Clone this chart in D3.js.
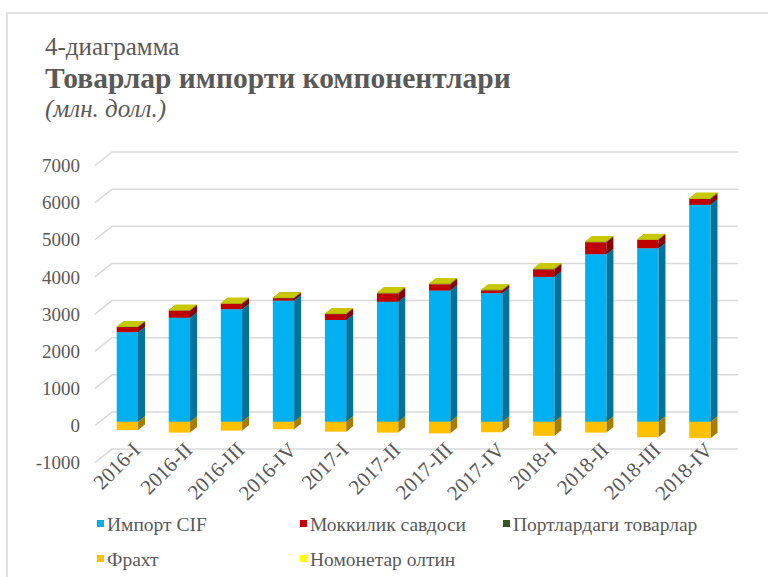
<!DOCTYPE html>
<html>
<head>
<meta charset="utf-8">
<script src="https://cdn.jsdelivr.net/npm/d3@7.9.0/dist/d3.min.js"></script>
<style>
  body { margin: 0; background: #fff; }
  svg { display: block; font-family: "Liberation Serif", "Times New Roman", serif; }
</style>
</head>
<body>
<div id="chart"></div>
<script>
const categories = ['2016-I', '2016-II', '2016-III', '2016-IV', '2017-I', '2017-II',
  '2017-III', '2017-IV', '2018-I', '2018-II', '2018-III', '2018-IV'];
const importCIF = [2410, 2800, 3030, 3260, 2740, 3230, 3530, 3460, 3900, 4510, 4670, 5840];
const mokkilik = [135, 190, 145, 65, 155, 225, 170, 75, 200, 320, 225, 155];
const portlar = [6, 4, 5, 3, 4, 6, 5, 4, 7, 6, 5, 8];
const oltin = [12, 10, 14, 9, 11, 15, 13, 10, 16, 12, 14, 18];
const frakht = [-225, -295, -240, -205, -270, -295, -315, -285, -380, -295, -420, -445];
const yTicks = [-1000, 0, 1000, 2000, 3000, 4000, 5000, 6000, 7000];

const series = [
  { key: 'import', name: 'Импорт CIF', values: importCIF, front: '#00B0F0', side: '#00729c', top: '#0090c4' },
  { key: 'mokkilik', name: 'Моккилик савдоси', values: mokkilik, front: '#C00000', side: '#860000', top: '#a00000' },
  { key: 'port', name: 'Портлардаги товарлар', values: portlar, front: '#375623', side: '#263c18', top: '#2e481d' },
  { key: 'oltin', name: 'Номонетар олтин', values: oltin, front: '#FFFF00', side: '#b3b300', top: '#c8c800' },
  { key: 'frakht', name: 'Фрахт', values: frakht, front: '#FFC000', side: '#a67d00', top: '#d9a300' },
];
const legendOrder = ['import', 'mokkilik', 'port', 'frakht', 'oltin'];

const width = 768, height = 577;
const svg = d3.select('#chart').append('svg')
  .attr('width', width).attr('height', height);

// chart frame (runs off the right/bottom of the picture)
svg.append('rect')
  .attr('x', 7).attr('y', 13).attr('width', 820).attr('height', 620)
  .attr('fill', '#fff').attr('stroke', '#d9d9d9').attr('stroke-width', 1.5);

// titles
const textColor = '#595959';
svg.append('text').attr('x', 45).attr('y', 55)
  .attr('font-size', 25).attr('fill', textColor).text('4-диаграмма');
svg.append('text').attr('x', 45).attr('y', 88)
  .attr('font-size', 29.5).attr('font-weight', 'bold').attr('fill', textColor)
  .text('Товарлар  импорти компонентлари');
svg.append('text').attr('x', 45).attr('y', 117)
  .attr('font-size', 25).attr('font-style', 'italic').attr('fill', textColor)
  .text('(млн. долл.)');

// back wall scale
const y = d3.scaleLinear().domain([-1000, 7000]).range([449.1, 152]);
const wall = { left: 112, right: 738, dx: 17, dy: 13.5 };   // side wall depth
const bar = { dx: 7, dy: -5.5, drop: 9.7 };                  // bar depth / front-face offset

const x = d3.scaleBand().domain(categories)
  .range([101, 726.2]).paddingInner(0.591).paddingOuter(0.3017);

// gridlines
const grid = svg.append('g').attr('class', 'grid');
grid.selectAll('polyline').data(yTicks).join('polyline')
  .attr('points', d => `${wall.left - wall.dx},${y(d) + wall.dy} ${wall.left},${y(d)} ${wall.right},${y(d)}`)
  .attr('fill', 'none').attr('stroke', '#d9d9d9').attr('stroke-width', 1.5);

// y labels
svg.append('g').selectAll('text').data(yTicks).join('text')
  .attr('x', 80).attr('y', d => y(d) + wall.dy)
  .attr('dy', '0.35em').attr('text-anchor', 'end')
  .attr('font-size', 19).attr('fill', textColor)
  .text(d => d);

// stack
const rows = categories.map((c, i) => {
  const r = { cat: c };
  series.forEach(s => { r[s.key] = s.values[i]; });
  return r;
});
const stacked = d3.stack().keys(series.map(s => s.key)).offset(d3.stackOffsetDiverging)(rows);
const byKey = new Map(stacked.map(s => [s.key, s]));
const drawOrder = ['frakht', 'import', 'mokkilik', 'port', 'oltin'];
const yf = v => y(v) + bar.drop;

const bars = svg.append('g').attr('class', 'bars');
categories.forEach((c, i) => {
  const g = bars.append('g');
  const x0 = x(c), x1 = x0 + x.bandwidth();
  drawOrder.forEach(k => {
    const s = series.find(d => d.key === k);
    const seg = byKey.get(k)[i];
    const yt = yf(Math.max(seg[0], seg[1])), yb = yf(Math.min(seg[0], seg[1]));
    g.append('polygon')
      .attr('points', `${x1},${yt} ${x1 + bar.dx},${yt + bar.dy} ${x1 + bar.dx},${yb + bar.dy} ${x1},${yb}`)
      .attr('fill', s.side);
    g.append('polygon')
      .attr('points', `${x0},${yt} ${x1},${yt} ${x1 + bar.dx},${yt + bar.dy} ${x0 + bar.dx},${yt + bar.dy}`)
      .attr('fill', s.top);
    g.append('rect')
      .attr('x', x0).attr('y', yt).attr('width', x1 - x0).attr('height', Math.max(0, yb - yt))
      .attr('fill', s.front);
  });
});

// x labels
svg.append('g').selectAll('text').data(categories).join('text')
  .attr('transform', d => `translate(${x(d) + x.bandwidth() / 2 + 9},${446}) rotate(-45)`)
  .attr('text-anchor', 'end').attr('dy', '0.35em')
  .attr('font-size', 21).attr('fill', textColor)
  .text(d => d);

// legend
const legendPos = [[97, 524], [300, 524], [503, 524], [97, 559], [300, 559]];
const legend = svg.append('g').selectAll('g').data(legendOrder).join('g')
  .attr('transform', (d, i) => `translate(${legendPos[i][0]},${legendPos[i][1]})`);
legend.append('rect').attr('x', 0).attr('y', -4).attr('width', 7).attr('height', 7)
  .attr('fill', d => series.find(s => s.key === d).front);
legend.append('text').attr('x', 10).attr('dy', '0.35em')
  .attr('font-size', 19.5).attr('fill', textColor)
  .text(d => series.find(s => s.key === d).name);
</script>
</body>
</html>
